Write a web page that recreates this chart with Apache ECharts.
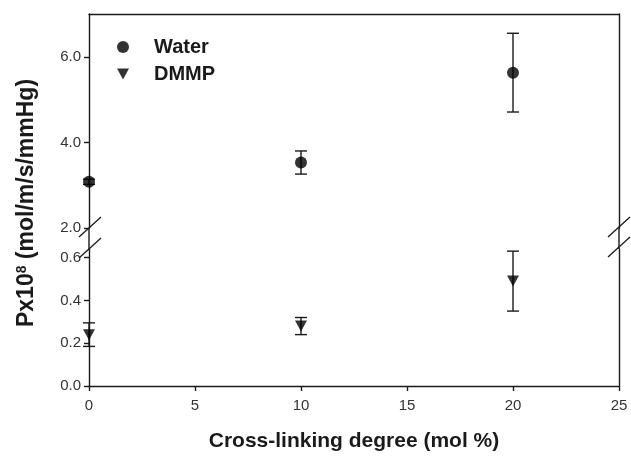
<!DOCTYPE html>
<html>
<head>
<meta charset="utf-8">
<script src="https://cdn.jsdelivr.net/npm/echarts@6/dist/echarts.min.js"></script>
<style>
  html, body { margin: 0; padding: 0; background: #fff; }
  #chart { width: 631px; height: 461px; }
</style>
</head>
<body>
<div id="chart"></div>
<script>
// data
const crossLinking = [0, 10, 20]
const waterP = [3.08, 3.53, 5.63]
const waterErr = [0.06, 0.27, 0.92]
const dmmpP = [0.24, 0.28, 0.49]
const dmmpErr = [0.055, 0.04, 0.14]
const xTicks = [0, 5, 10, 15, 20, 25]
const upperTicks = [2, 4, 6]
const lowerTicks = [0, 0.2, 0.4, 0.6]

const font = 'Liberation Sans, Arial, sans-serif'
const ink = '#1a1a1a'
const downTri = 'path://M0,0 L10,0 L5,9 Z'

const chart = echarts.init(document.getElementById('chart'))

const errorBars = (xs, ys, errs, xi, yi) => ({
  type: 'custom',
  xAxisIndex: xi,
  yAxisIndex: yi,
  clip: false,
  z: 1,
  data: xs.map((x, i) => [x, ys[i], errs[i]]),
  renderItem: (params, api) => {
    const x = api.value(0), y = api.value(1), e = api.value(2)
    const hi = api.coord([x, y + e])
    const lo = api.coord([x, y - e])
    const w = 6
    const style = { stroke: ink, lineWidth: 1.4 }
    return {
      type: 'group',
      children: [
        { type: 'line', shape: { x1: hi[0], y1: hi[1], x2: lo[0], y2: lo[1] }, style },
        { type: 'line', shape: { x1: hi[0] - w, y1: hi[1], x2: hi[0] + w, y2: hi[1] }, style },
        { type: 'line', shape: { x1: lo[0] - w, y1: lo[1], x2: lo[0] + w, y2: lo[1] }, style }
      ]
    }
  }
})

const lineStyle = { color: ink, width: 1.4 }
const yLabel = {
  color: '#333', fontSize: 15, fontFamily: font, margin: 8,
  formatter: v => v.toFixed(1)
}

const option = {
  animation: false,
  backgroundColor: '#fff',
  grid: [
    { left: 89, right: 12, top: 14, height: 214 },
    { left: 89, right: 12, top: 249, height: 137 }
  ],
  xAxis: [
    {
      gridIndex: 0, type: 'value', min: 0, max: 25, interval: 5, position: 'top',
      axisLine: { show: true, lineStyle }, axisTick: { show: false },
      axisLabel: { show: false }, splitLine: { show: false }
    },
    {
      gridIndex: 1, type: 'value', min: 0, max: 25, interval: 5,
      axisLine: { show: true, lineStyle },
      axisTick: { show: true, length: 5, lineStyle, customValues: xTicks },
      axisLabel: { color: '#333', fontSize: 15, fontFamily: font, margin: 12, customValues: xTicks },
      splitLine: { show: false },
      name: 'Cross-linking degree (mol %)',
      nameLocation: 'middle', nameGap: 45,
      nameTextStyle: { color: ink, fontSize: 21, fontWeight: 'bold', fontFamily: font }
    }
  ],
  yAxis: [
    {
      gridIndex: 0, type: 'value', min: 2, max: 7,
      axisLine: { show: true, lineStyle },
      axisTick: { show: true, length: 5, lineStyle, customValues: upperTicks },
      axisLabel: Object.assign({ customValues: upperTicks }, yLabel),
      splitLine: { show: false }
    },
    {
      gridIndex: 0, type: 'value', min: 2, max: 7, position: 'right',
      axisLine: { show: true, lineStyle }, axisTick: { show: false },
      axisLabel: { show: false }, splitLine: { show: false }
    },
    {
      gridIndex: 1, type: 'value', min: 0, max: 0.64,
      axisLine: { show: true, lineStyle },
      axisTick: { show: true, length: 5, lineStyle, customValues: lowerTicks },
      axisLabel: Object.assign({ customValues: lowerTicks }, yLabel),
      splitLine: { show: false }
    },
    {
      gridIndex: 1, type: 'value', min: 0, max: 0.64, position: 'right',
      axisLine: { show: true, lineStyle }, axisTick: { show: false },
      axisLabel: { show: false }, splitLine: { show: false }
    }
  ],
  legend: {
    data: ['Water', 'DMMP'],
    orient: 'vertical',
    left: 112, top: 32,
    itemWidth: 12, itemHeight: 12, itemGap: 7,
    textStyle: { color: ink, fontSize: 20, fontWeight: 'bold', fontFamily: font, padding: [0, 0, 0, 20] }
  },
  series: [
    errorBars(crossLinking, waterP, waterErr, 0, 0),
    errorBars(crossLinking, dmmpP, dmmpErr, 1, 2),
    {
      name: 'Water', type: 'scatter', xAxisIndex: 0, yAxisIndex: 0,
      symbol: 'circle', symbolSize: 12, z: 3, clip: false,
      itemStyle: { color: '#000' },
      data: crossLinking.map((x, i) => [x, waterP[i]])
    },
    {
      name: 'DMMP', type: 'scatter', xAxisIndex: 1, yAxisIndex: 2,
      symbol: downTri, symbolSize: [12, 11], z: 3, clip: false,
      itemStyle: { color: '#000' },
      data: crossLinking.map((x, i) => [x, dmmpP[i]])
    }
  ],
  graphic: [
    // axis lines through the break
    { type: 'line', shape: { x1: 89, y1: 228, x2: 89, y2: 249 }, style: { stroke: ink, lineWidth: 1.4 } },
    { type: 'line', shape: { x1: 619, y1: 228, x2: 619, y2: 249 }, style: { stroke: ink, lineWidth: 1.4 } },
    // break marks
    { type: 'line', shape: { x1: 79, y1: 237, x2: 101, y2: 217 }, style: { stroke: ink, lineWidth: 1.3 } },
    { type: 'line', shape: { x1: 79, y1: 258, x2: 101, y2: 238 }, style: { stroke: ink, lineWidth: 1.3 } },
    { type: 'line', shape: { x1: 608, y1: 237, x2: 630, y2: 217 }, style: { stroke: ink, lineWidth: 1.3 } },
    { type: 'line', shape: { x1: 608, y1: 257, x2: 630, y2: 237 }, style: { stroke: ink, lineWidth: 1.3 } },
    {
      type: 'text', x: 27, y: 203, rotation: Math.PI / 2,
      style: {
        text: 'Px10{sup|8} (mol/m/s/mmHg)',
        fill: ink, font: 'bold 23px ' + font,
        align: 'center', verticalAlign: 'middle',
        rich: { sup: { fontSize: 14, fontWeight: 'bold', verticalAlign: 'top', padding: [0, 0, 10, 0], fontFamily: font, fill: ink } }
      }
    }
  ]
}

chart.setOption(option)
</script>
</body>
</html>
